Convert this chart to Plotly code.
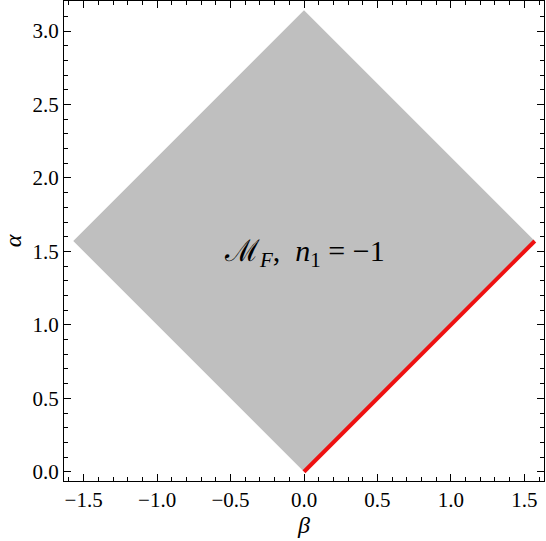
import numpy as np
import plotly.graph_objects as go

# Region M_F (diamond) in the (beta, alpha) plane
region_beta = [0.0, np.pi / 2, 0.0, -np.pi / 2, 0.0]
region_alpha = [0.0, np.pi / 2, np.pi, np.pi / 2, 0.0]

# Boundary segment highlighted in red
edge_beta = [0.0, np.pi / 2]
edge_alpha = [0.0, np.pi / 2]

x_range = [-np.pi / 2 * 1.04, np.pi / 2 * 1.04]
y_range = [-np.pi * 0.02, np.pi * 1.02]

label_text = "ℳ<sub><i>F</i></sub>,  <i>n</i><sub>1</sub> = −1"

fig = go.Figure()

fig.add_trace(go.Scatter(
    x=region_beta, y=region_alpha,
    mode="lines", fill="toself",
    fillcolor="#bfbfbf", line=dict(width=0),
    hoverinfo="skip", showlegend=False
))

fig.add_trace(go.Scatter(
    x=edge_beta, y=edge_alpha,
    mode="lines", line=dict(color="#ee1111", width=4),
    showlegend=False
))

fig.add_annotation(
    x=0, y=1.49, text=label_text, showarrow=False,
    font=dict(family="Liberation Serif", size=30, color="black"),
    xanchor="center", yanchor="middle"
)

axis_style = dict(
    showline=True, linecolor="black", linewidth=1, mirror="ticks",
    ticks="inside", ticklen=7, tickwidth=1, tickcolor="black",
    showgrid=False, zeroline=False, automargin=False,
    tickfont=dict(family="Liberation Serif", size=21, color="black"),
    tickformat=".1f", dtick=0.5,
    minor=dict(ticks="inside", ticklen=4, tickcolor="black", dtick=0.1, showgrid=False),
)

fig.update_layout(
    width=546, height=541,
    margin=dict(l=64, r=2, t=1, b=60),
    paper_bgcolor="white", plot_bgcolor="white",
    xaxis=dict(range=x_range, tick0=0,
               title=dict(text="<i>β</i>", standoff=2,
                          font=dict(family="Liberation Serif", size=24, color="black")),
               **axis_style),
    yaxis=dict(range=y_range, tick0=0,
               title=dict(text="<i>α</i>", standoff=4,
                          font=dict(family="Liberation Serif", size=24, color="black")),
               **axis_style),
)

# usuń domyślny margines strony, żeby wykres zaczynał się w rogu okna
fig.write_html("out.html", config={"displayModeBar": False},
               post_script="document.body.style.margin='0';")
